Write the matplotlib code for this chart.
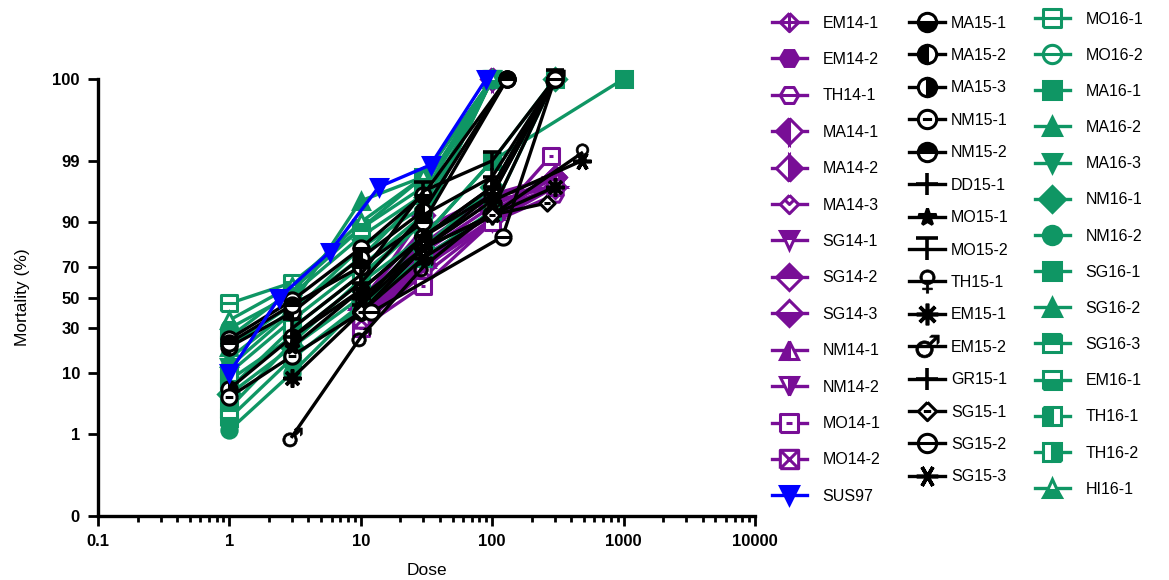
import math
import numpy as np
import matplotlib
matplotlib.use("Agg")
import matplotlib.pyplot as plt
from matplotlib.path import Path

plt.rcParams["font.family"] = ["Liberation Sans", "DejaVu Sans"]

PURPLE = "#780e96"
BLACK = "#000000"
GREEN = "#0f9664"
BLUE = "#0000ff"

# 2014 strains
names_14 = ["EM14-1", "EM14-2", "TH14-1", "MA14-1", "MA14-2", "MA14-3", "SG14-1",
            "SG14-2", "SG14-3", "NM14-1", "NM14-2", "MO14-1", "MO14-2"]
dose_14 = [[10, 30, 100, 300], [10, 30, 100, 300], [10, 30, 100, 300], [10, 30, 100],
           [10, 30, 100, 300], [10, 30, 100, 300], [10, 30, 100, 300], [10, 30, 100, 300],
           [10, 30, 100, 300], [10, 30, 100, 300], [10, 30, 100, 300], [10, 30, 100, 280],
           [10, 30, 100, 300]]
mort_14 = [[35, 75, 92, 98], [40, 80, 95, 97], [30, 70, 90, 96], [45, 92, 100],
           [38, 72, 93, 98], [50, 82, 96, 97], [33, 65, 90, 97], [42, 78, 94, 98],
           [36, 70, 91, 97], [48, 88, 96, 98], [40, 76, 92, 97], [30, 58, 90, 99.2],
           [35, 68, 93, 97]]

# 2015 strains
names_15 = ["MA15-1", "MA15-2", "MA15-3", "NM15-1", "NM15-2", "DD15-1", "MO15-1",
            "MO15-2", "TH15-1", "EM15-1", "EM15-2", "GR15-1", "SG15-1", "SG15-2", "SG15-3"]
dose_15 = [[1, 3, 10, 30, 130], [1, 3, 10, 30, 130], [1, 3, 10, 30, 100, 300],
           [1, 3, 10, 30, 100, 300], [1, 3, 10, 30, 130], [3, 10, 30, 100, 300],
           [3, 10, 30, 100, 300], [3, 10, 30, 100, 300], [10, 30, 100, 480],
           [3, 10, 30, 100, 300], [3, 10, 30, 100, 300], [10, 30, 100, 300],
           [10, 30, 100, 260], [12, 120, 300], [10, 30, 100, 480]]
mort_15 = [[24, 48, 80, 96, 100], [20, 40, 75, 93, 100], [6, 25, 55, 85, 97, 100],
           [4.5, 16, 40, 80, 96, 100], [22, 45, 70, 90, 100], [25, 60, 92, 98, 100],
           [20, 55, 85, 96, 100], [30, 65, 96.5, 99, 100], [45, 80, 92, 99.3],
           [8.5, 40, 75, 92, 97], [0.9, 25, 70, 93, 100], [45, 85, 97, 100],
           [40, 80, 92, 94.6], [40, 85, 100], [50, 80, 95, 99]]

# 2016 strains
names_16 = ["MO16-1", "MO16-2", "MA16-1", "MA16-2", "MA16-3", "NM16-1", "NM16-2",
            "SG16-1", "SG16-2", "SG16-3", "EM16-1", "TH16-1", "TH16-2", "HI16-1"]
dose_16 = [[1, 3, 10, 30, 100], [1, 3, 10, 30, 100], [1, 3, 10, 30, 100, 1000],
           [1, 3, 10, 30, 100], [1, 3, 10, 30, 100], [1, 3, 10, 30, 100, 300],
           [1, 3, 10, 30, 100, 300], [1, 3, 10, 30, 100], [1, 3, 10, 30, 100],
           [1, 3, 10, 30, 100], [1, 3, 10, 30, 100, 300], [1, 3, 10, 30, 100],
           [1, 3, 10, 30, 100], [1, 3, 10, 30, 100]]
mort_16 = [[46, 60, 88, 97, 100], [30, 52, 85, 96, 100], [8, 25, 60, 85, 99, 100],
           [20, 45, 95, 98, 100], [12, 40, 80, 94, 100], [5, 20, 50, 80, 97, 100],
           [1.2, 10, 45, 85, 99, 100], [3, 22, 62, 90, 100], [15, 42, 75, 96, 100],
           [25, 55, 88, 98, 100], [2, 15, 45, 75, 93, 100], [10, 35, 70, 92, 100],
           [6, 30, 65, 90, 100], [35, 58, 90, 98, 100]]

# susceptible reference strain
sus_dose = [1, 2.4, 5.8, 13.7, 34, 90]
sus_mort = [10, 50, 78, 97, 98.8, 100]

y_ticks = [0, 1, 10, 30, 50, 70, 90, 99, 100]
x_ticks = [0.1, 1, 10, 100, 1000, 10000]


# probit axis: percent -> normal quantile (Acklam's approximation)
A = [-3.969683028665376e+01, 2.209460984245205e+02, -2.759285104469687e+02,
     1.383577518672690e+02, -3.066479806614716e+01, 2.506628277459239e+00]
B = [-5.447609879822406e+01, 1.615858368580409e+02, -1.556989798598866e+02,
     6.680131188771972e+01, -1.328068155288572e+01]
C = [-7.784894002430293e-03, -3.223964580411365e-01, -2.400758277161838e+00,
     -2.549732539343734e+00, 4.374664141464968e+00, 2.938163982698783e+00]
D = [7.784695709041462e-03, 3.224671290700398e-01, 2.445134137142996e+00,
     3.754408661907416e+00]


def probit(pct):
    p = np.clip(np.asarray(pct, dtype=float) / 100.0, 1e-4, 1 - 1e-4)
    q = np.where(p < 0.5, p, 1 - p)
    r = np.sqrt(-2 * np.log(q))
    tail = (((((C[0]*r + C[1])*r + C[2])*r + C[3])*r + C[4])*r + C[5]) / \
           ((((D[0]*r + D[1])*r + D[2])*r + D[3])*r + 1)
    t = p - 0.5
    s = t * t
    mid = (((((A[0]*s + A[1])*s + A[2])*s + A[3])*s + A[4])*s + A[5])*t / \
          (((((B[0]*s + B[1])*s + B[2])*s + B[3])*s + B[4])*s + 1)
    return np.where(q < 0.02425, np.where(p < 0.5, tail, -tail), mid)


_erf = np.vectorize(math.erf)


def inv_probit(z):
    return 50.0 * (1 + _erf(np.asarray(z, dtype=float) / math.sqrt(2)))


def shape(*polys):
    verts, codes = [], []
    for poly in polys:
        verts += poly
        codes += [Path.MOVETO] + [Path.LINETO] * (len(poly) - 1)
    return Path(verts, codes)


DIAMOND = [(0, 1), (1, 0), (0, -1), (-1, 0), (0, 1)]
SQUARE = [(-1, -1), (1, -1), (1, 1), (-1, 1), (-1, -1)]
HEXAGON = [(-1, 0), (-0.5, 0.87), (0.5, 0.87), (1, 0), (0.5, -0.87), (-0.5, -0.87), (-1, 0)]
CIRCLE = [(math.cos(t), math.sin(t)) for t in np.linspace(0, 2 * np.pi, 41)]
HBAR = [(-1, 0), (1, 0)]

# (marker, fill) per strain; fill: full / open / top / bottom / left / right / line
markers = {
    "EM14-1": (shape(DIAMOND, HBAR, [(0, 1), (0, -1)]), "open"),
    "EM14-2": ("H", "full"),
    "TH14-1": (shape(HEXAGON, HBAR), "open"),
    "MA14-1": ("D", "left"),
    "MA14-2": ("D", "right"),
    "MA14-3": (shape(DIAMOND, [(-0.5, 0.5), (0, 0), (0.5, 0.5)]), "open"),
    "SG14-1": ("v", "top"),
    "SG14-2": ("D", "top"),
    "SG14-3": ("D", "bottom"),
    "NM14-1": ("^", "left"),
    "NM14-2": ("v", "right"),
    "MO14-1": (shape(SQUARE, [(-0.3, 0), (0.3, 0)]), "open"),
    "MO14-2": (shape(SQUARE, [(-1, -1), (1, 1)], [(-1, 1), (1, -1)]), "open"),
    "MA15-1": ("o", "bottom"),
    "MA15-2": ("o", "left"),
    "MA15-3": ("o", "right"),
    "NM15-1": (shape(CIRCLE, [(-0.5, 0), (0.5, 0)]), "open"),
    "NM15-2": ("o", "top"),
    "DD15-1": ("+", "line"),
    "MO15-1": ("*", "full"),
    "MO15-2": (shape([(-1, 1), (1, 1)], [(0, 1), (0, -1)]), "line"),
    "TH15-1": ("$\u2640$", "full"),
    "EM15-1": ((8, 2, 0), "line"),
    "EM15-2": ("$\u2642$", "full"),
    "GR15-1": ("+", "line"),
    "SG15-1": (shape(DIAMOND, [(-0.4, 0), (0.4, 0)]), "open"),
    "SG15-2": (shape(CIRCLE, HBAR), "open"),
    "SG15-3": ((6, 2, 90), "line"),
    "MO16-1": (shape(SQUARE, HBAR), "open"),
    "MO16-2": (shape(CIRCLE, HBAR), "open"),
    "MA16-1": ("s", "full"),
    "MA16-2": ("^", "full"),
    "MA16-3": ("v", "full"),
    "NM16-1": ("D", "full"),
    "NM16-2": ("o", "full"),
    "SG16-1": ("s", "full"),
    "SG16-2": ("^", "full"),
    "SG16-3": ("s", "top"),
    "EM16-1": ("s", "bottom"),
    "TH16-1": ("s", "left"),
    "TH16-2": ("s", "right"),
    "HI16-1": ("^", "bottom"),
    "SUS97": ("v", "full"),
}


def style(name, color):
    m, fill = markers[name]
    kw = dict(marker=m, color=color, mec=color, lw=2.4, mew=2.2, ms=11)
    if fill == "full":
        kw["mfc"] = color
    elif fill == "open":
        kw["mfc"] = "white"
    elif fill == "line":
        kw["mfc"] = "none"
        kw["ms"] = 13
        kw["mew"] = 2.6
    else:
        kw.update(fillstyle=fill, mfc=color, mfcalt="white")
    if isinstance(m, str) and m.startswith("$"):
        kw["ms"] = 14
        kw["mew"] = 0.5
    return kw


fig = plt.figure(figsize=(11.69, 5.8), dpi=100)
ax = fig.add_axes([0.0838, 0.1103, 0.5620, 0.7535])
ax.set_xscale("log")
ax.set_yscale("function", functions=(probit, inv_probit))

lines = {}
groups = [(names_14, dose_14, mort_14, PURPLE), (names_16, dose_16, mort_16, GREEN),
          (names_15, dose_15, mort_15, BLACK)]
for names, doses, morts, color in groups:
    for name, d, m in zip(names, doses, morts):
        lines[name], = ax.plot(d, m, clip_on=False, label=name, **style(name, color))
lines["SUS97"], = ax.plot(sus_dose, sus_mort, clip_on=False, label="SUS97",
                          **style("SUS97", BLUE))

ax.set_xlim(0.1, 10000)
ax.set_ylim(0, 100)
ax.set_xticks(x_ticks, ["0.1", "1", "10", "100", "1000", "10000"])
ax.set_yticks(y_ticks, [str(v) for v in y_ticks])
ax.tick_params(axis="both", which="major", labelsize=12, width=2, length=7, pad=6)
ax.tick_params(axis="x", which="minor", width=2, length=4)
for lab in ax.get_xticklabels() + ax.get_yticklabels():
    lab.set_fontweight("bold")
for side in ["top", "right"]:
    ax.spines[side].set_visible(False)
for side in ["left", "bottom"]:
    ax.spines[side].set_linewidth(2.4)

ax.set_xlabel("Dose", fontsize=12.5, labelpad=10)
ax.set_ylabel("Mortality (%)", fontsize=12.5, labelpad=16)

legend_cols = [
    (names_14 + ["SUS97"], 0.660, 0.973, 1.34, 1.0),
    (names_15, 0.778, 0.973, 1.09, 0.4),
    (names_16, 0.885, 0.980, 1.325, 1.0),
]
for col, x0, y0, spacing, pad in legend_cols:
    fig.legend([lines[n] for n in col], col, loc="upper left",
               bbox_to_anchor=(x0, y0), frameon=False, borderpad=0,
               borderaxespad=0, handlelength=2.2, handletextpad=pad,
               labelspacing=spacing, fontsize=11.5, numpoints=1, markerscale=1.2)

fig.savefig("out.png", dpi=100)
